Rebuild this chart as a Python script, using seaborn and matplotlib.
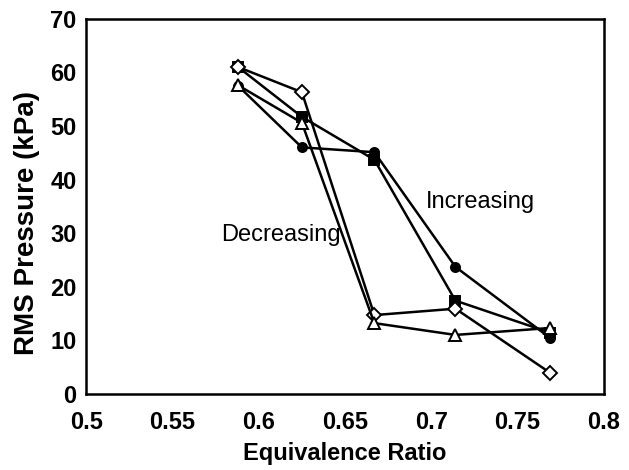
import numpy as np
import pandas as pd
import matplotlib
matplotlib.use('Agg')
import matplotlib.pyplot as plt
import seaborn as sns

# Datos
equiv_ratio = [0.588, 0.625, 0.667, 0.714, 0.769]
inc_circle = [57.5, 46.0, 45.1, 23.7, 10.4]
inc_square = [61.0, 51.7, 43.7, 17.4, 11.4]
dec_diamond = [61.0, 56.3, 14.7, 15.9, 3.9]
dec_triangle = [57.6, 50.6, 13.2, 11.0, 12.3]

series = {
    'circle': inc_circle,
    'square': inc_square,
    'diamond': dec_diamond,
    'triangle': dec_triangle,
}
estilos = {
    'circle': dict(marker='o', markerfacecolor='black', markersize=6.5),
    'square': dict(marker='s', markerfacecolor='black', markersize=6.5),
    'diamond': dict(marker='D', markerfacecolor='white', markersize=7),
    'triangle': dict(marker='^', markerfacecolor='white', markersize=8),
}

df = pd.concat([pd.DataFrame({'x': equiv_ratio, 'y': v, 'serie': k})
                for k, v in series.items()], ignore_index=True)

sns.set_style('white')
plt.rcParams['font.family'] = ['Liberation Sans', 'DejaVu Sans']
plt.rcParams['text.color'] = 'black'
plt.rcParams['axes.labelcolor'] = 'black'
plt.rcParams['xtick.color'] = 'black'
plt.rcParams['ytick.color'] = 'black'

fig = plt.figure(figsize=(6.29, 4.70), dpi=100)
ax = fig.add_axes([0.137, 0.162, 0.823, 0.798])

for nombre in series:
    sub = df[df['serie'] == nombre]
    sns.lineplot(data=sub, x='x', y='y', ax=ax, color='black', linewidth=1.8,
                 markeredgecolor='black', markeredgewidth=1.4,
                 legend=False, **estilos[nombre])

ax.set_xlim(0.5, 0.8)
ax.set_ylim(0, 70)
ax.set_xticks(np.arange(0.5, 0.81, 0.05))
ax.set_xticklabels(['0.5', '0.55', '0.6', '0.65', '0.7', '0.75', '0.8'])
ax.set_yticks(range(0, 71, 10))

for lab in ax.get_xticklabels() + ax.get_yticklabels():
    lab.set_fontweight('bold')
    lab.set_fontsize(17)

ax.tick_params(axis='both', direction='inout', length=8, width=1.4, pad=3)
ax.tick_params(axis='x', pad=8)
for sp in ax.spines.values():
    sp.set_color('black')
    sp.set_linewidth(1.8)

ax.set_xlabel('Equivalence Ratio', fontsize=17, fontweight='bold', labelpad=6)
ax.set_ylabel('RMS Pressure (kPa)', fontsize=20, fontweight='bold')
ax.yaxis.set_label_coords(-0.09, 0.456)

ax.text(0.6966, 35.8, 'Increasing', fontsize=17, va='center', ha='left')
ax.text(0.578, 29.7, 'Decreasing', fontsize=17, va='center', ha='left')

fig.savefig('out.png', dpi=100)
